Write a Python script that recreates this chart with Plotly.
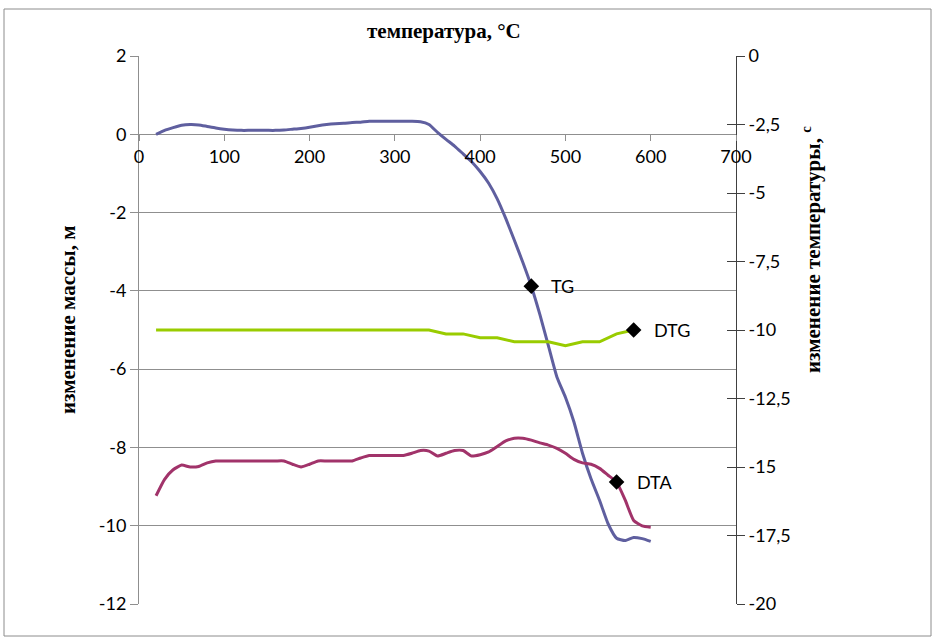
import plotly.graph_objects as go

# ---------------- data ----------------
temp_10 = [20, 30, 40, 50, 60, 70, 80, 90, 100, 110, 120, 130, 140, 150, 160, 170, 180, 190,
           200, 210, 220, 230, 240, 250, 260, 270, 280, 290, 300, 310, 320, 330, 340, 350,
           360, 370, 380, 390, 400, 410, 420, 430, 440, 450, 460, 470, 480, 490, 500, 510,
           520, 530, 540, 550, 560, 570, 580, 590, 600]

tg_values = [0.0, 0.1, 0.17, 0.23, 0.25, 0.24, 0.2, 0.16, 0.13, 0.11, 0.1, 0.1, 0.1, 0.1, 0.1,
             0.11, 0.13, 0.15, 0.18, 0.22, 0.25, 0.27, 0.28, 0.3, 0.31, 0.33, 0.33, 0.33, 0.33,
             0.33, 0.33, 0.32, 0.25, 0.05, -0.13, -0.3, -0.5, -0.7, -0.95, -1.25, -1.65, -2.15,
             -2.7, -3.27, -3.88, -4.6, -5.4, -6.2, -6.72, -7.35, -8.15, -8.8, -9.35, -9.95,
             -10.32, -10.38, -10.3, -10.33, -10.4]

dta_values = [-16.05, -15.45, -15.1, -14.93, -15.0, -14.98, -14.85, -14.78, -14.78, -14.78,
              -14.78, -14.78, -14.78, -14.78, -14.78, -14.78, -14.9, -15.0, -14.9, -14.78,
              -14.78, -14.78, -14.78, -14.78, -14.67, -14.58, -14.58, -14.58, -14.58, -14.58,
              -14.5, -14.4, -14.42, -14.6, -14.5, -14.4, -14.4, -14.6, -14.55, -14.45, -14.25,
              -14.05, -13.95, -13.95, -14.02, -14.12, -14.2, -14.32, -14.5, -14.72, -14.85,
              -14.9, -15.05, -15.3, -15.55, -16.2, -16.95, -17.15, -17.2]

temp_20 = [20, 40, 60, 80, 100, 120, 140, 160, 180, 200, 220, 240, 260, 280, 300, 320, 340,
           360, 380, 400, 420, 440, 460, 480, 500, 520, 540, 560, 580]

dtg_values = [-5.0, -5.0, -5.0, -5.0, -5.0, -5.0, -5.0, -5.0, -5.0, -5.0, -5.0, -5.0, -5.0,
              -5.0, -5.0, -5.0, -5.0, -5.1, -5.1, -5.2, -5.2, -5.3, -5.3, -5.3, -5.4, -5.3,
              -5.3, -5.1, -5.0]

label_temps = {"TG": 460, "DTG": 580, "DTA": 560}

x_ticks = [0, 100, 200, 300, 400, 500, 600, 700]
y_left_ticks = [2, 0, -2, -4, -6, -8, -10, -12]
y_right_ticks = [0, -2.5, -5, -7.5, -10, -12.5, -15, -17.5, -20]
y_right_labels = ["0", "-2,5", "-5", "-7,5", "-10", "-12,5", "-15", "-17,5", "-20"]

title_x = "температура, °C"
title_left = "изменение массы, м"
title_right = "изменение температуры, <sup>с</sup>"

# ---------------- geometry ----------------
W, H = 937, 643
L, R, T, B = 139, 736, 56, 604
x_range = [0, 700]
yl_range = [-12, 2]
yr_range = [-20, 0]


def px(xp):
    return (xp - L) / (R - L)


def py(yp):
    return (B - yp) / (B - T)


c_tg = "#5f5f9f"
c_dta = "#a1336a"
c_dtg = "#99cc00"
grid_c = "#8f8f8f"
tick_font = dict(family="Lato, Carlito, sans-serif", size=18, color="black")
label_font = dict(family="Lato, Carlito, sans-serif", size=18, color="black")
title_font = dict(family="Liberation Serif, Times New Roman, serif", size=21, color="black")

fig = go.Figure()
fig.add_trace(go.Scatter(x=temp_10, y=tg_values, mode="lines", yaxis="y",
                         line=dict(color=c_tg, width=3, shape="spline", smoothing=0.5),
                         name="TG"))
fig.add_trace(go.Scatter(x=temp_20, y=dtg_values, mode="lines", yaxis="y",
                         line=dict(color=c_dtg, width=3), name="DTG"))
fig.add_trace(go.Scatter(x=temp_10, y=dta_values, mode="lines", yaxis="y2",
                         line=dict(color=c_dta, width=3, shape="spline", smoothing=0.5),
                         name="DTA"))
# invisible trace to keep inner right tick axis alive
fig.add_trace(go.Scatter(x=[temp_10[0]], y=[dta_values[0]], yaxis="y3", mode="markers",
                         marker=dict(opacity=0), showlegend=False, hoverinfo="skip"))

# label markers taken from the series
series = {
    "TG": (temp_10, tg_values, "y"),
    "DTG": (temp_20, dtg_values, "y"),
    "DTA": (temp_10, dta_values, "y2"),
}
annotations = []
for name, t in label_temps.items():
    xs, ys, ax = series[name]
    i = xs.index(t)
    fig.add_trace(go.Scatter(x=[xs[i]], y=[ys[i]], yaxis=ax, mode="markers",
                             marker=dict(symbol="diamond", size=12, color="black"),
                             showlegend=False))
    annotations.append(dict(x=xs[i], y=ys[i], xref="x", yref=ax, text=name, showarrow=False,
                            xanchor="left", yanchor="middle", xshift=18, font=label_font))

annotations += [
    dict(x=px(444), y=py(31), xref="paper", yref="paper", text="<b>" + title_x + "</b>",
         showarrow=False, xanchor="center", yanchor="middle", font=title_font),
    dict(x=px(68), y=py(320), xref="paper", yref="paper", text="<b>" + title_left + "</b>",
         showarrow=False, xanchor="center", yanchor="middle", textangle=-90, font=title_font),
    dict(x=px(812), y=py(250), xref="paper", yref="paper", text="<b>" + title_right + "</b>",
         showarrow=False, xanchor="center", yanchor="middle", textangle=-90, font=title_font),
]

fig.update_layout(
    width=W, height=H,
    margin=dict(l=L, r=W - R, t=T, b=H - B, autoexpand=False),
    paper_bgcolor="white", plot_bgcolor="white",
    showlegend=False,
    xaxis=dict(range=x_range, tickvals=x_ticks, ticktext=[str(v) for v in x_ticks],
               ticks="outside", ticklen=6, tickcolor=grid_c, tickwidth=1,
               showgrid=False, zeroline=False, showline=False,
               anchor="free", position=(0 - yl_range[0]) / (yl_range[1] - yl_range[0]),
               tickfont=tick_font),
    yaxis=dict(range=yl_range, tickvals=y_left_ticks, ticktext=[str(v) for v in y_left_ticks],
               ticks="outside", ticklen=8, tickcolor=grid_c, showgrid=True, gridcolor=grid_c,
               gridwidth=1, showline=True, linecolor=grid_c, linewidth=1, zeroline=False,
               tickfont=tick_font),
    yaxis2=dict(range=yr_range, overlaying="y", side="right", tickvals=y_right_ticks,
                ticktext=y_right_labels, ticks="outside", ticklen=8, tickcolor="#404040",
                showgrid=False, zeroline=False, showline=True, linecolor="#404040",
                linewidth=1, tickfont=tick_font),
    yaxis3=dict(range=yr_range, overlaying="y", side="right", tickvals=y_right_ticks,
                ticks="inside", ticklen=9, tickcolor="#404040", showticklabels=False,
                showgrid=False, zeroline=False, showline=False),
    annotations=annotations,
    shapes=[dict(type="rect", xref="paper", yref="paper", x0=px(4), x1=px(931),
                 y0=py(636), y1=py(9), line=dict(color="#8c8c8c", width=1))],
)

fig.write_html("out.html", config={"displayModeBar": False},
               post_script="document.body.style.margin='0';document.body.style.overflow='hidden';")
